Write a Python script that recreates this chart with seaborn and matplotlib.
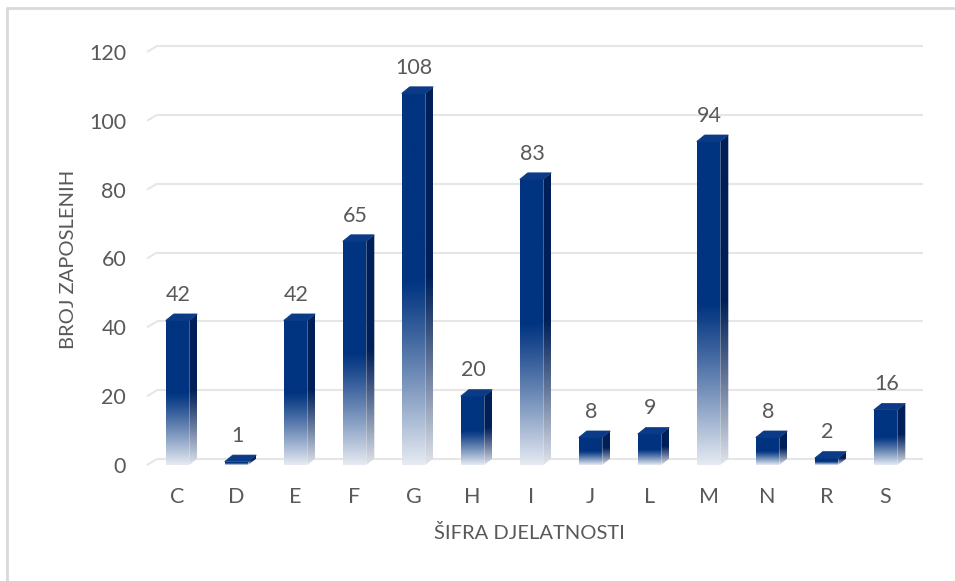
import numpy as np
import pandas as pd
import matplotlib
matplotlib.use("Agg")
import matplotlib.pyplot as plt
import seaborn as sns
from matplotlib.patches import Polygon
from matplotlib.lines import Line2D
from matplotlib.colors import to_rgb

# ---- data ----
categories = ["C", "D", "E", "F", "G", "H", "I", "J", "L", "M", "N", "R", "S"]
employees = [42, 1, 42, 65, 108, 20, 83, 8, 9, 94, 8, 2, 16]
y_ticks = [0, 20, 40, 60, 80, 100, 120]
x_title = "ŠIFRA DJELATNOSTI"
y_title = "BROJ ZAPOSLENIH"

# ---- style ----
FRONT = "#003380"
SIDE = "#001F58"
TOP = "#0B3B86"
TEXT = "#595959"
GRID = "#E6E6E6"
BORDER = "#D9D9D9"

sns.set_theme(style="white")
plt.rcParams['font.family'] = ['Lato', 'DejaVu Sans']

W, H = 955, 581
fig = plt.figure(figsize=(W / 100, H / 100), dpi=100)
ax_l, ax_r, ax_t, ax_b = 147, 913, 52, 465
ax = fig.add_axes([ax_l / W, 1 - ax_b / H, (ax_r - ax_l) / W, (ax_b - ax_t) / H])

df = pd.DataFrame({"sifra": categories, "broj": employees})
sns.barplot(data=df, x="sifra", y="broj", color=FRONT, width=0.4,
            saturation=1, ax=ax, zorder=3)

XL = (-0.517, 12.466)
YL = (0, 120)
ax.set_xlim(*XL)
ax.set_ylim(*YL)

# pixel -> data conversions
sx = (ax_r - ax_l) / (XL[1] - XL[0])
sy = (ax_b - ax_t) / (YL[1] - YL[0])
bdx, bdy = 8 / sx, 6.5 / sy      # bar depth
gdx, gdy = 10 / sx, 6 / sy       # gridline (back wall) offset


def grad_img(color, n=256, start=0.5, mix=0.9):
    c = np.array(to_rgb(color))
    t = np.linspace(0, 1, n)  # 0 top, 1 bottom
    f = np.clip((t - start) / (1 - start), 0, 1)
    f = f ** 1.1 * mix
    rgb = c[None, :] * (1 - f[:, None]) + np.ones(3)[None, :] * f[:, None]
    return rgb[:, None, :]


# gridlines on back wall with diagonal at left
for v in y_ticks:
    ax.plot([XL[0], XL[0] + gdx], [v, v + gdy], color=GRID, lw=1.5,
            zorder=1, clip_on=False, solid_capstyle='butt')
    ax.plot([XL[0] + gdx, XL[1] + gdx], [v + gdy, v + gdy], color=GRID,
            lw=1.5, zorder=1, clip_on=False, solid_capstyle='butt')

bars = list(ax.patches)
for p, v in zip(bars, employees):
    x0 = p.get_x()
    w = p.get_width()
    h = p.get_height()
    x1 = x0 + w
    p.set_visible(False)
    # front face with gradient
    front = Polygon([(x0, 0), (x1, 0), (x1, h), (x0, h)], closed=True,
                    facecolor='none', edgecolor='none', zorder=3)
    ax.add_patch(front)
    im = ax.imshow(grad_img(FRONT, mix=0.9), extent=[x0, x1, 0, h],
                   aspect='auto', zorder=3, interpolation='bilinear')
    im.set_clip_path(front)
    # side face
    side = Polygon([(x1, 0), (x1, h), (x1 + bdx, h + bdy), (x1 + bdx, bdy)],
                   closed=True, facecolor='none', edgecolor='none', zorder=3)
    ax.add_patch(side)
    ims = ax.imshow(grad_img(SIDE, mix=0.88), extent=[x1, x1 + bdx, 0, h + bdy],
                    aspect='auto', zorder=3, interpolation='bilinear')
    ims.set_clip_path(side)
    # top face
    ax.add_patch(Polygon([(x0, h), (x1, h), (x1 + bdx, h + bdy), (x0 + bdx, h + bdy)],
                         closed=True, facecolor=TOP, edgecolor=TOP, lw=0.5, zorder=4))
    # value label
    ax.annotate(str(v), (x0 + w / 2, h), xytext=(0.5, 18.5),
                textcoords='offset points', ha='center', va='center',
                fontsize=15.5, color=TEXT, zorder=5)

ax.set_xlim(*XL)
ax.set_ylim(*YL)
ax.set_yticks(y_ticks)
ax.set_yticklabels([str(t) for t in y_ticks])
ax.tick_params(axis='y', length=0, pad=15, labelsize=15.5, labelcolor=TEXT)
ax.tick_params(axis='x', length=0, pad=15.5, labelsize=15.5, labelcolor=TEXT)
for s in ax.spines.values():
    s.set_visible(False)
ax.grid(False)

ax.set_xlabel(x_title, fontsize=14.5, color=TEXT)
ax.set_ylabel(y_title, fontsize=14.5, color=TEXT)
ax.xaxis.label.set_va('center')
ax.yaxis.label.set_va('center')
ax.xaxis.set_label_coords((529.5 - ax_l) / (ax_r - ax_l), (ax_b - 533) / (ax_b - ax_t))
ax.yaxis.set_label_coords((68 - ax_l) / (ax_r - ax_l), (ax_b - 259.5) / (ax_b - ax_t))

# chart-area border (top & left visible)
fig.add_artist(Line2D([7 / W, 7 / W], [0, 1 - 8 / H], color=BORDER, lw=2,
                      transform=fig.transFigure))
fig.add_artist(Line2D([7 / W, 1], [1 - 8 / H, 1 - 8 / H], color=BORDER, lw=2,
                      transform=fig.transFigure))

fig.savefig("out.png", dpi=100, facecolor="white")
